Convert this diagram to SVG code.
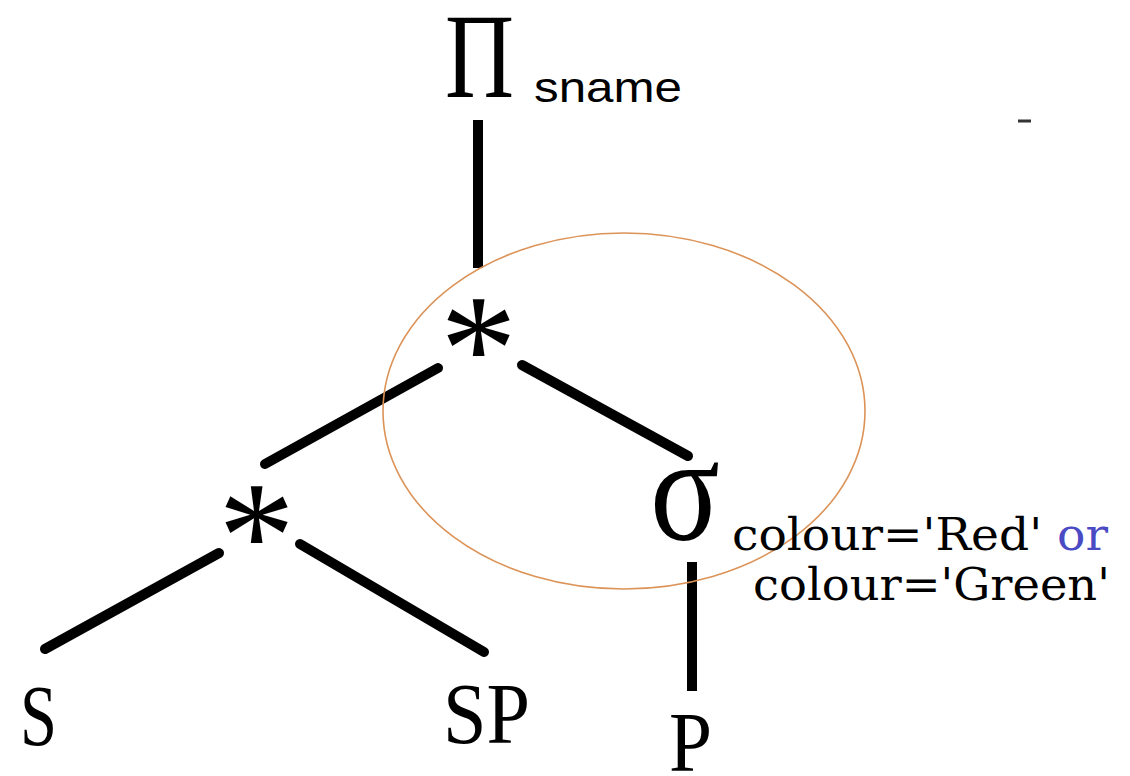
<svg xmlns="http://www.w3.org/2000/svg" width="1130" height="776" viewBox="0 0 1130 776">
<style>
.ser{font-family:"Liberation Serif","Times New Roman",serif;fill:#000}
.lab{font-family:"DejaVu Serif","Liberation Serif",serif;fill:#000}
.sans{font-family:"Liberation Sans",Arial,sans-serif;fill:#000}
.edge{stroke:#000;stroke-width:10;stroke-linecap:round;fill:none}
</style>
<rect width="1130" height="776" fill="#fff"/>
<g id="connectors">
<line class="edge" x1="478" y1="120" x2="478" y2="268" style="stroke-linecap:butt"/>
<line class="edge" x1="438" y1="368" x2="265" y2="464"/>
<line class="edge" x1="522" y1="365" x2="688" y2="456"/>
<line class="edge" x1="219" y1="553" x2="45" y2="649"/>
<line class="edge" x1="300" y1="544" x2="484" y2="652"/>
<line class="edge" x1="692" y1="562" x2="692" y2="691" style="stroke-linecap:butt"/>
</g>
<ellipse id="highlight" cx="624" cy="411" rx="241" ry="178" fill="none" stroke="#dc9358" stroke-width="1.6"/>
<g id="project">
<text class="ser" x="445" y="97" font-size="121" textLength="69" lengthAdjust="spacingAndGlyphs">Π</text>
<text class="sans" x="534" y="102" font-size="42" textLength="148" lengthAdjust="spacingAndGlyphs">sname</text>
</g>
<g id="join-top">
<text class="ser" x="440" y="401" font-size="154">*</text>
</g>
<g id="join-left">
<text class="ser" x="218" y="588" font-size="154">*</text>
</g>
<g id="select">
<text class="ser" x="650" y="540" font-size="150" textLength="70" lengthAdjust="spacingAndGlyphs">σ</text>
<text class="lab" x="732" y="550" font-size="44" textLength="376" lengthAdjust="spacingAndGlyphs">colour='Red' <tspan fill="#4a4ac4">or</tspan></text>
<text class="lab" x="753" y="600" font-size="44" textLength="357" lengthAdjust="spacingAndGlyphs">colour='Green'</text>
</g>
<g id="rel-S">
<text class="ser" x="20" y="745" font-size="86" textLength="37" lengthAdjust="spacingAndGlyphs">S</text>
</g>
<g id="rel-SP">
<text class="ser" x="443" y="743" font-size="86" textLength="87" lengthAdjust="spacingAndGlyphs">SP</text>
</g>
<g id="rel-P">
<text class="ser" x="669" y="771" font-size="84" textLength="43" lengthAdjust="spacingAndGlyphs">P</text>
</g>
<line x1="1018" y1="121" x2="1031" y2="121" stroke="#333" stroke-width="3"/>
</svg>
